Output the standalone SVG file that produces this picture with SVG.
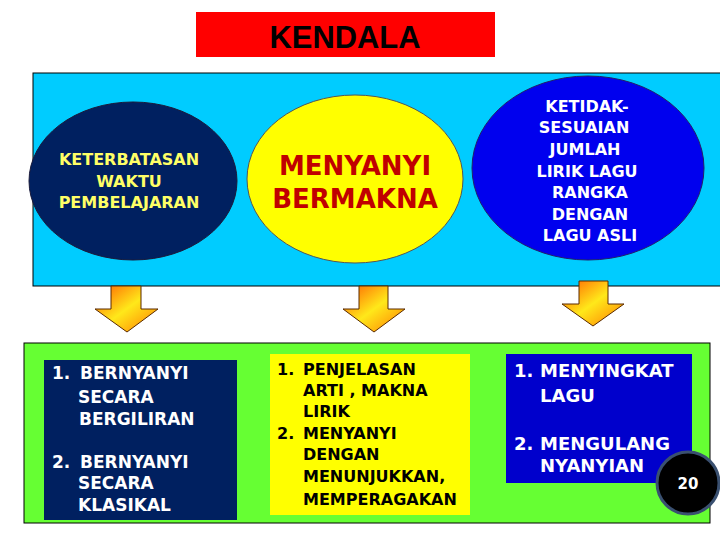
<svg xmlns="http://www.w3.org/2000/svg" width="720" height="540" viewBox="0 0 720 540">
<defs>
<linearGradient id="ag" x1="0" y1="0" x2="1" y2="1">
<stop offset="0" stop-color="#FF5A00"/>
<stop offset="0.5" stop-color="#FFE81A"/>
<stop offset="1" stop-color="#FF7A00"/>
</linearGradient>
<style>
.b{font-family:"DejaVu Sans",Verdana,sans-serif;font-weight:bold}
.arr{fill:url(#ag);stroke:#5a2a00;stroke-width:1}
</style>
</defs>
<rect width="720" height="540" fill="#ffffff"/>
<g id="title">
<rect x="196" y="12" width="299" height="45" fill="#FF0000"/>
<text x="345" y="48" text-anchor="middle" font-family="Liberation Sans,Arial,sans-serif" font-weight="bold" font-size="31" textLength="151" lengthAdjust="spacingAndGlyphs" fill="#000">KENDALA</text>
</g>
<g id="top-panel">
<rect x="33" y="73" width="700" height="213" fill="#00CCFF" stroke="#000" stroke-width="1"/>
</g>
<g id="e1">
<ellipse cx="133" cy="181" rx="104" ry="79" fill="#002060" stroke="#1a1a3a" stroke-width="1"/>
<text class="b" font-size="16" fill="#FFFF66" text-anchor="middle"><tspan x="129" y="165">KETERBATASAN</tspan><tspan x="129" y="187">WAKTU</tspan><tspan x="129" y="208">PEMBELAJARAN</tspan></text>
</g>
<g id="e2">
<ellipse cx="355" cy="179" rx="108" ry="84" fill="#FFFF00" stroke="#555" stroke-width="1"/>
<text class="b" font-size="26" fill="#C00000" text-anchor="middle"><tspan x="355" y="175">MENYANYI</tspan><tspan x="355" y="208">BERMAKNA</tspan></text>
</g>
<g id="e3">
<ellipse cx="588" cy="168" rx="116" ry="92" fill="#0000EE" stroke="#222266" stroke-width="1"/>
<text class="b" font-size="16" fill="#FFFFFF" text-anchor="middle"><tspan x="587" y="112">KETIDAK-</tspan><tspan x="584" y="133">SESUAIAN</tspan><tspan x="585" y="155">JUMLAH</tspan><tspan x="587" y="177">LIRIK LAGU</tspan><tspan x="590" y="198">RANGKA</tspan><tspan x="590" y="220">DENGAN</tspan><tspan x="590" y="241">LAGU ASLI</tspan></text>
</g>
<g id="connectors">
<path class="arr" d="M111,286 H141 V309 H158 L127,332 L95,309 H111 Z"/>
<path class="arr" d="M359,286 H388 V309 H405 L374,332 L343,309 H359 Z"/>
<path class="arr" d="M579,281 H608 V304 H624 L593,326 L562,304 H579 Z"/>
</g>
<g id="bottom-panel">
<rect x="24" y="343" width="686" height="180" fill="#66FF33" stroke="#000" stroke-width="1"/>
</g>
<g id="b1">
<rect x="44" y="360" width="193" height="160" fill="#002060"/>
<text class="b" font-size="17" fill="#FFFFFF"><tspan x="52" y="379">1.</tspan><tspan x="80" y="379">BERNYANYI</tspan><tspan x="78" y="403">SECARA</tspan><tspan x="79" y="425">BERGILIRAN</tspan><tspan x="52" y="468">2.</tspan><tspan x="80" y="468">BERNYANYI</tspan><tspan x="78" y="489">SECARA</tspan><tspan x="78" y="511">KLASIKAL</tspan></text>
</g>
<g id="b2">
<rect x="270" y="354" width="200" height="161" fill="#FFFF00"/>
<text class="b" font-size="16" fill="#000000"><tspan x="277" y="375">1.</tspan><tspan x="303" y="375">PENJELASAN</tspan><tspan x="303" y="396">ARTI , MAKNA</tspan><tspan x="303" y="417">LIRIK</tspan><tspan x="277" y="439">2.</tspan><tspan x="303" y="439">MENYANYI</tspan><tspan x="303" y="460">DENGAN</tspan><tspan x="303" y="482">MENUNJUKKAN,</tspan><tspan x="303" y="505">MEMPERAGAKAN</tspan></text>
</g>
<g id="b3">
<rect x="506" y="354" width="186" height="129" fill="#0000CC"/>
<text class="b" font-size="18" fill="#FFFFFF"><tspan x="514" y="377">1.</tspan><tspan x="540" y="377">MENYINGKAT</tspan><tspan x="540" y="402">LAGU</tspan><tspan x="514" y="450">2.</tspan><tspan x="540" y="450">MENGULANG</tspan><tspan x="540" y="472">NYANYIAN</tspan></text>
</g>
<g id="page-number">
<circle cx="688" cy="483" r="31" fill="#000000" stroke="#3A5070" stroke-width="3"/>
<text class="b" font-size="15" fill="#FFFFFF" text-anchor="middle" x="688" y="489">20</text>
</g>
</svg>
